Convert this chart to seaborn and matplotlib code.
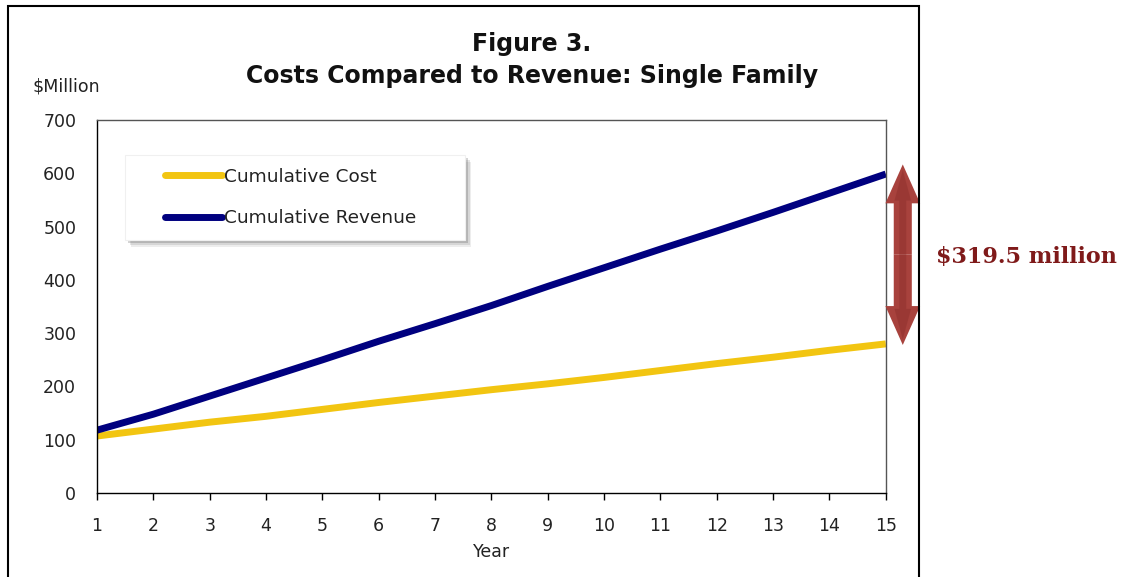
import pandas as pd
import matplotlib.pyplot as plt
import seaborn as sns
from matplotlib.patches import Rectangle
import matplotlib.transforms as mtransforms

# data ($ million)
years = list(range(1, 16))
cumulative_cost = [107, 120, 133, 144, 157, 170, 182, 194, 205, 217, 230, 243, 255, 268, 280]
cumulative_revenue = [118, 148, 182, 216, 250, 285, 318, 352, 388, 423, 458, 492, 527, 563, 599]
series_names = ['Cumulative Cost', 'Cumulative Revenue']
gap_label = '$319.5 million'

df = pd.DataFrame({
    'Year': years * 2,
    'Value': cumulative_cost + cumulative_revenue,
    'Series': [series_names[0]] * len(years) + [series_names[1]] * len(years),
})

sns.set_theme(style="white")
plt.rcParams['font.family'] = ['DejaVu Sans']

fig = plt.figure(figsize=(11.22, 5.77), dpi=100)
ax = fig.add_axes([0.0865, 0.1456, 0.703, 0.646])

colors = {'Cumulative Cost': '#F2C511', 'Cumulative Revenue': '#00007F'}
sns.lineplot(data=df, x='Year', y='Value', hue='Series', palette=colors,
             linewidth=5, ax=ax, legend=False, solid_capstyle='butt')

ax.set_xlim(1, 15)
ax.set_ylim(0, 700)
ax.set_xticks(years)
ax.set_yticks(range(0, 701, 100))
ax.tick_params(axis='x', direction='out', length=5, width=1, color='black',
               pad=12, labelsize=12.5, labelcolor='#222222', bottom=True)
ax.tick_params(axis='y', length=0, pad=15, labelsize=12.5, labelcolor='#222222')
for s in ax.spines.values():
    s.set_color('black')
    s.set_linewidth(1)
ax.spines['top'].set_color('#555555')
ax.spines['right'].set_color('#555555')

ax.set_xlabel('Year', fontsize=12.5, color='#222222', labelpad=6)
ax.set_ylabel('')

# legend box with a soft shadow (a few offset grey layers), legend drawn frameless on top
for i, a in enumerate([0.10, 0.15, 0.25]):
    off = 4.5 - i * 1.2
    sh_trans = ax.transAxes + mtransforms.ScaledTranslation(off / 72, -off / 72, fig.dpi_scale_trans)
    ax.add_patch(Rectangle((0.0355, 0.678), 0.431, 0.228, transform=sh_trans,
                           facecolor='#555555', edgecolor='none', alpha=a, zorder=2.9))
ax.add_patch(Rectangle((0.0355, 0.678), 0.431, 0.228, transform=ax.transAxes,
                       facecolor='white', edgecolor='#f0f0f0', linewidth=0.8, zorder=3))

handles = [plt.Line2D([], [], color=colors[n], linewidth=5, solid_capstyle='round') for n in series_names]
leg = ax.legend(handles, series_names, loc='upper left', bbox_to_anchor=(0.086, 0.872),
                fontsize=13.3, handlelength=3.1, handletextpad=0.12, labelspacing=1.25,
                borderpad=0, borderaxespad=0, frameon=False)
leg.set_zorder(4)
for t in leg.get_texts():
    t.set_color('#222222')

# double-headed arrow marking the gap at year 15
trans = mtransforms.blended_transform_factory(ax.transAxes, ax.transData)
top = cumulative_revenue[-1] + 18
bottom = cumulative_cost[-1] - 2
mid = (top + bottom) / 2
for end in (top, bottom):
    ax.annotate('', xy=(1.0215, end), xycoords=trans, xytext=(1.0215, mid), textcoords=trans,
                annotation_clip=False,
                arrowprops=dict(arrowstyle='simple, head_length=28, head_width=25, tail_width=13',
                                mutation_scale=1, fc='#A8423D', ec='none', shrinkA=0, shrinkB=0))
    # darker inner core for a bit of depth
    ax.annotate('', xy=(1.0215, end), xycoords=trans, xytext=(1.0215, mid), textcoords=trans,
                annotation_clip=False,
                arrowprops=dict(arrowstyle='simple, head_length=22, head_width=12, tail_width=5',
                                mutation_scale=1, fc='#8E302C', ec='none', alpha=0.5,
                                shrinkA=0, shrinkB=4))
ax.text(1.063, mid - 5, gap_label, transform=trans, fontsize=16, fontweight='bold',
        family='DejaVu Serif', color='#7F1A1A', ha='left', va='center', clip_on=False)

# title and unit label
fig.text(0.474, 1 - 60 / 577, 'Figure 3.\nCosts Compared to Revenue: Single Family',
         ha='center', va='center', fontsize=17, fontweight='bold', color='#111111', linespacing=1.4)
fig.text(0.029, 1 - 86 / 577, '$Million', ha='left', va='center', fontsize=12.5, color='#222222')

# outer frame
fig.patches.append(Rectangle((8 / 1122, -0.02), 911 / 1122, 1.02 - 6 / 577, transform=fig.transFigure,
                             fill=False, edgecolor='black', linewidth=1.5))

plt.savefig('out.png', dpi=100, facecolor='white')
